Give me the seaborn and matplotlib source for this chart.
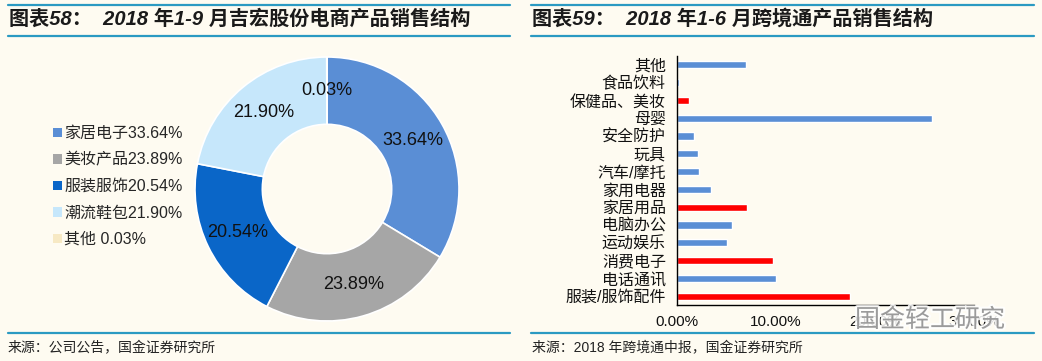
import matplotlib
matplotlib.use("Agg")
import matplotlib.pyplot as plt
import matplotlib.patheffects as pe
from matplotlib.ticker import FuncFormatter
import seaborn as sns

# Left chart: donut of product structure
pie_labels = ["家居电子33.64%", "美妆产品23.89%", "服装服饰20.54%", "潮流鞋包21.90%", "其他 0.03%"]
pie_values = [33.64, 23.89, 20.54, 21.90, 0.03]
pie_colors = ["#5A8ED5", "#A6A6A6", "#0A66C8", "#C6E7FB", "#F7E9C4"]

# Right chart: cross-border sales structure
bar_cats = ["其他", "食品饮料", "保健品、美妆", "母婴", "安全防护", "玩具", "汽车/摩托",
            "家用电器", "家居用品", "电脑办公", "运动娱乐", "消费电子", "电话通讯", "服装/服饰配件"]
bar_values = [0.070, 0.0025, 0.012, 0.258, 0.017, 0.021, 0.0225,
              0.034, 0.071, 0.0555, 0.051, 0.097, 0.100, 0.175]
bar_red = [False, False, True, False, False, False, False,
           False, True, False, False, True, False, True]
x_ticks = [0.0, 0.1, 0.2, 0.3]

sns.set_theme(style="white")
plt.rcParams['font.family'] = ['Liberation Sans', 'Noto Sans CJK SC', 'DejaVu Sans']

W, H = 1042, 361
bg = "#FEFBF1"
line_c = "#2B9AC2"
fig = plt.figure(figsize=(W / 100, H / 100), dpi=100, facecolor=bg)


def fx(px):
    return px / W


def fy(py):
    return 1 - py / H


# title bars and source lines
for x0, x1 in [(8, 510), (531, 1034)]:
    for y in [5, 36, 333]:
        fig.add_artist(plt.Line2D([fx(x0), fx(x1)], [fy(y), fy(y)], color=line_c, lw=1.6))

fig.text(fx(9), fy(19), "图表58：  2018 年1-9 月吉宏股份电商产品销售结构", fontsize=14.5,
         fontweight="bold", fontstyle="italic", va="center", ha="left", color="#1a1a1a")
fig.text(fx(532), fy(19), "图表59：  2018 年1-6 月跨境通产品销售结构", fontsize=14.5,
         fontweight="bold", fontstyle="italic", va="center", ha="left", color="#1a1a1a")
fig.text(fx(8), fy(348), "来源：公司公告，国金证券研究所", fontsize=10, va="center", color="#222222")
fig.text(fx(532), fy(348), "来源：2018 年跨境通中报，国金证券研究所", fontsize=10, va="center", color="#222222")

# donut
cx, cy, r = 327, 189, 132
ax1 = fig.add_axes([fx(cx - r), fy(cy + r), 2 * r / W, 2 * r / H])
ax1.set_facecolor(bg)
wedges, _, autotexts = ax1.pie(
    pie_values, colors=pie_colors, startangle=90, counterclock=False,
    autopct=lambda p: f"{p:.2f}%", pctdistance=0.75, radius=1.0,
    wedgeprops=dict(width=0.51, edgecolor="white", linewidth=1.2),
    textprops=dict(fontsize=13, color="#111111"))
ax1.set_xlim(-1, 1)
ax1.set_ylim(-1, 1)
ax1.set_aspect("auto")
ax1.axis("off")

leg = fig.legend(wedges, pie_labels, loc="upper left", bbox_to_anchor=(fx(53), fy(126)),
                 frameon=False, fontsize=11.5, handlelength=0.55, handleheight=0.55,
                 handletextpad=0.15, labelspacing=0.72, borderpad=0, borderaxespad=0)
for h in leg.legend_handles:
    h.set_edgecolor("none")

# bar chart
ax2 = fig.add_axes([fx(677), fy(305), (974 - 677) / W, (305 - 56) / H])
ax2.set_facecolor(bg)
palette = {c: ("#FF0000" if red else "#5A8ED5") for c, red in zip(bar_cats, bar_red)}
sns.barplot(x=bar_values, y=bar_cats, hue=bar_cats, palette=palette, legend=False,
            orient="h", width=0.4, ax=ax2, saturation=1)
ax2.set_xlim(0, 0.30)
ax2.set_xticks(x_ticks)
ax2.xaxis.set_major_formatter(FuncFormatter(lambda v, _: f"{v * 100:.2f}%"))
ax2.tick_params(axis="y", length=0, labelsize=11.5, colors="#111111", pad=8)
ax2.tick_params(axis="x", length=0, labelsize=11, colors="#111111", pad=7)
for s in ["top", "right"]:
    ax2.spines[s].set_visible(False)
for s in ["left", "bottom"]:
    ax2.spines[s].set_color("black")
    ax2.spines[s].set_linewidth(1.0)
ax2.set_xlabel("")
ax2.set_ylabel("")

# watermark (overlaps the axis labels as in the source image)
fig.text(fx(930), fy(320), "国金轻工研究", fontsize=18, color="#8c8c8c", alpha=0.85,
         ha="center", va="center",
         path_effects=[pe.withStroke(linewidth=3, foreground="white")])

fig.savefig("out.png", dpi=100, facecolor=bg)
